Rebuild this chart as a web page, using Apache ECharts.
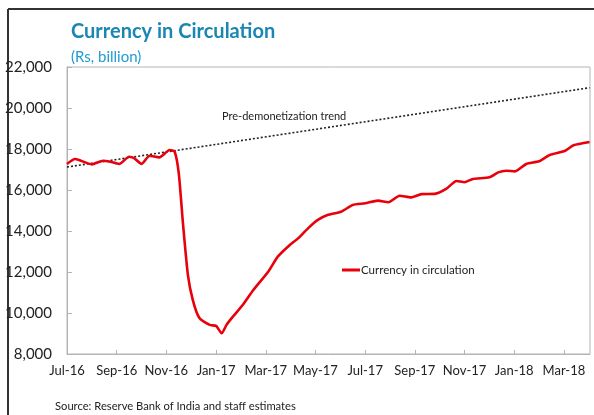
<!DOCTYPE html>
<html>
<head>
<meta charset="utf-8">
<script src="https://cdn.jsdelivr.net/npm/echarts@6/dist/echarts.min.js"></script>
<style>
  html, body { margin: 0; padding: 0; background: #fff; }
  #main { width: 594px; height: 415px; }
</style>
</head>
<body>
<div id="main"></div>
<script>
// currency in circulation, Rs billion
var dates = [
  '2016-07-01','2016-07-11','2016-07-16','2016-08-01','2016-08-15','2016-08-24',
  '2016-09-04','2016-09-16','2016-09-22','2016-10-01','2016-10-11','2016-10-23',
  '2016-11-05','2016-11-11','2016-11-16','2016-11-21','2016-11-27','2016-12-03',
  '2016-12-11','2016-12-24','2017-01-01','2017-01-08','2017-01-14','2017-01-22',
  '2017-02-03','2017-02-15','2017-03-04','2017-03-16','2017-03-31','2017-04-10',
  '2017-04-22','2017-05-04','2017-05-16','2017-06-02','2017-06-16','2017-07-01',
  '2017-07-17','2017-07-30','2017-08-13','2017-08-27','2017-09-09','2017-09-25',
  '2017-10-09','2017-10-22','2017-11-01','2017-11-11','2017-12-01','2017-12-12',
  '2017-12-22','2018-01-02','2018-01-16','2018-02-01','2018-02-13','2018-03-02',
  '2018-03-13','2018-04-02'
];
var cic = [
  17270,17510,17460,17250,17430,17380,
  17270,17620,17550,17270,17670,17590,
  17950,17870,16800,14380,11850,10630,
  9770,9420,9370,9010,9420,9820,
  10390,11120,12010,12750,13320,13640,
  14130,14540,14780,14940,15270,15350,
  15480,15400,15720,15640,15800,15810,
  16050,16440,16380,16540,16620,16860,
  16940,16910,17270,17400,17710,17900,
  18180,18340
];
// pre-demonetization trend (straight line, two ends)
var trendDates = ['2016-07-01', '2018-04-02'];
var trendVals = [17120, 20990];

var xTickLabels = ['Jul-16','Sep-16','Nov-16','Jan-17','Mar-17','May-17',
                   'Jul-17','Sep-17','Nov-17','Jan-18','Mar-18'];

// months since Jul-16
function monthIdx(s) {
  var p = s.split('-').map(Number);
  var dim = new Date(p[0], p[1], 0).getDate();
  return (p[0] - 2016) * 12 + (p[1] - 7) + (p[2] - 1) / dim;
}

var lineData = dates.map(function (d, i) { return [monthIdx(d), cic[i]]; });
var trendData = trendDates.map(function (d, i) { return [monthIdx(d), trendVals[i]]; });

var chart = echarts.init(document.getElementById('main'));
var font = 'Lato, "Open Sans", sans-serif';

var option = {
  animation: false,
  textStyle: { fontFamily: font },
  grid: {
    left: 67, right: 4, top: 67, bottom: 61,
    show: true, borderColor: '#b4b4b4', borderWidth: 1
  },
  title: {
    text: 'Currency in Circulation',
    subtext: '(Rs, billion)',
    left: 66, top: 17,
    itemGap: 8,
    textStyle: { fontFamily: font, fontSize: 20, fontWeight: 'bold', color: '#1a86b4' },
    subtextStyle: { fontFamily: font, fontSize: 15, color: '#1f9bd1' }
  },
  legend: {
    left: 337, top: 259,
    icon: 'rect', itemWidth: 18, itemHeight: 3, itemGap: 2,
    data: ['Currency in circulation'],
    textStyle: { fontFamily: font, fontSize: 11.5, color: '#222', padding: [0, 0, 0, -4] }
  },
  xAxis: {
    type: 'value', min: 0, max: 21.05, interval: 2,
    splitLine: { show: false },
    axisLine: { lineStyle: { color: '#b4b4b4' } },
    axisTick: { inside: true, length: 4, lineStyle: { color: '#b4b4b4' } },
    axisLabel: {
      fontFamily: font, fontSize: 13, color: '#222', margin: 10,
      showMaxLabel: false,
      formatter: function (v) { return xTickLabels[Math.round(v / 2)] || ''; }
    }
  },
  yAxis: {
    type: 'value', min: 8000, max: 22000, interval: 2000,
    splitLine: { show: false },
    axisLine: { show: true, lineStyle: { color: '#b4b4b4' } },
    axisTick: { show: true, inside: true, length: 5, lineStyle: { color: '#b4b4b4' } },
    axisLabel: {
      fontFamily: font, fontSize: 15, color: '#222', margin: 15,
      formatter: function (v) { return v.toLocaleString('en-US'); }
    }
  },
  graphic: [
    { type: 'line', shape: { x1: 8, y1: 9, x2: 594, y2: 9 }, style: { stroke: '#333', lineWidth: 2 } },
    { type: 'line', shape: { x1: 8, y1: 9, x2: 8, y2: 415 }, style: { stroke: '#333', lineWidth: 2 } },
    { type: 'text', left: 222, top: 111,
      style: { text: 'Pre-demonetization trend', fontFamily: font, fontSize: 11, fill: '#222' } },
    { type: 'text', left: 55, top: 401,
      style: { text: 'Source: Reserve Bank of India and staff estimates', fontFamily: font, fontSize: 11.2, fill: '#222' } }
  ],
  series: [
    {
      name: 'Pre-demonetization trend', type: 'line', data: trendData,
      showSymbol: false, silent: true,
      lineStyle: { color: '#222', width: 1.6, type: [2, 2] }
    },
    {
      name: 'Currency in circulation', type: 'line', data: lineData,
      showSymbol: false, smooth: 0.2,
      itemStyle: { color: '#e8000b' },
      lineStyle: { color: '#e8000b', width: 2.6 }
    }
  ]
};
chart.setOption(option);
</script>
</body>
</html>
